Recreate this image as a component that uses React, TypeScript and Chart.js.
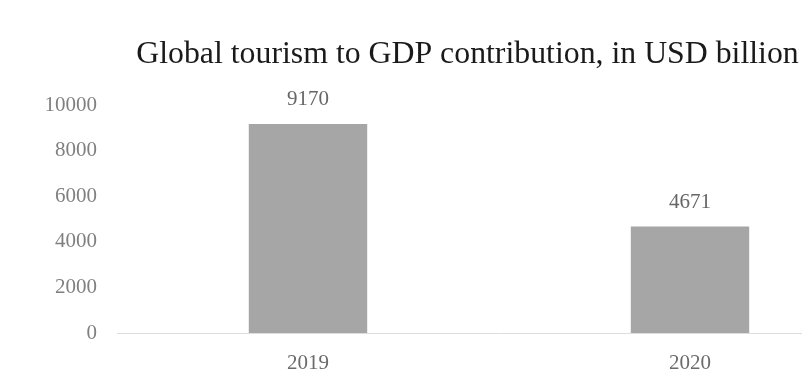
import React, { useEffect, useRef } from "react";
import { Chart, registerables } from "chart.js";

Chart.register(...registerables);

const categories = ["2019", "2020"];
const gdpContribution = [9170, 4671];
const yTicks = [0, 2000, 4000, 6000, 8000, 10000];
const titleText = "Global tourism to GDP contribution, in USD billion";

const FONT = "'Liberation Serif', 'Times New Roman', serif";

const valueLabels = {
  id: "valueLabels",
  afterDatasetsDraw(chart: any) {
    const ctx = chart.ctx;
    const meta = chart.getDatasetMeta(0);
    ctx.save();
    ctx.font = `21px ${FONT}`;
    ctx.fillStyle = "#666666";
    ctx.textAlign = "center";
    ctx.textBaseline = "bottom";
    meta.data.forEach((bar: any, i: number) => {
      const v = chart.data.datasets[0].data[i];
      ctx.fillText(String(v), bar.x, bar.y - 14);
    });
    ctx.restore();
  },
};

export default function App() {
  const ref = useRef<HTMLCanvasElement>(null);
  useEffect(() => {
    if (!ref.current) return;
    const chart = new Chart(ref.current, {
      type: "bar",
      data: {
        labels: categories,
        datasets: [
          {
            data: gdpContribution,
            backgroundColor: "#a6a6a6",
            borderWidth: 0,
            barPercentage: 0.31,
            categoryPercentage: 1,
            yAxisID: "y",
          },
        ],
      },
      options: {
        responsive: false,
        animation: false,
        devicePixelRatio: 1,
        layout: { padding: { left: 40, right: 66, top: 0, bottom: 0 } },
        plugins: {
          legend: { display: false },
          tooltip: { enabled: false },
          title: {
            display: true,
            text: titleText,
            color: "#1a1a1a",
            font: { family: FONT, size: 31.8, weight: "normal" },
            padding: { top: 36, bottom: 31 },
          },
        },
        scales: {
          x: {
            grid: { display: false, drawTicks: false },
            border: { display: true, color: "#dddddd", width: 1 },
            afterFit: (scale: any) => {
              scale.height = 43;
            },
            ticks: {
              color: "#6b6b6b",
              font: { family: FONT, size: 21 },
              padding: 18,
            },
          },
          y: {
            min: 0,
            max: 10000,
            grid: { display: false, drawTicks: false },
            border: { display: false },
            afterFit: (scale: any) => {
              scale.width = 77;
            },
            afterBuildTicks: (scale: any) => {
              scale.ticks = yTicks.map((v) => ({ value: v }));
            },
            ticks: {
              color: "#808080",
              font: { family: FONT, size: 21 },
              padding: 20,
              callback: (v: any) => String(v),
            },
          },
          yRight: {
            position: "right",
            min: 0,
            max: 10000,
            grid: { display: false, drawTicks: false },
            border: { display: false },
            ticks: { display: false },
            afterFit: (scale: any) => {
              scale.width = 14;
            },
          },
        },
      },
      plugins: [valueLabels],
    });
    return () => chart.destroy();
  }, []);
  return (
    <div
      style={{
        position: "fixed",
        left: 0,
        top: 0,
        width: 802,
        height: 376,
        overflow: "hidden",
        background: "#ffffff",
      }}
    >
      <canvas ref={ref} width={961} height={376} style={{ display: "block" }} />
    </div>
  );
}
